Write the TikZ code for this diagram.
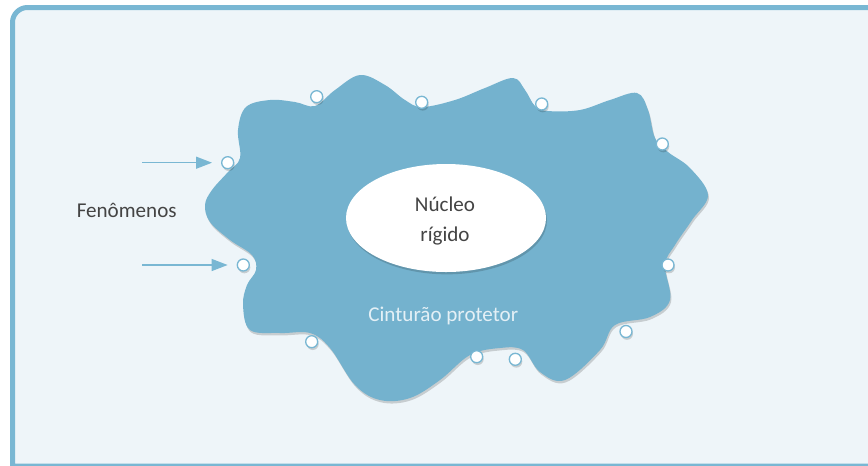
\documentclass[tikz,border=0pt]{standalone}
\usepackage{fontspec}
\setmainfont{Carlito}
\usetikzlibrary{arrows.meta,positioning,shapes.geometric,shadows}
\definecolor{framecol}{HTML}{79B7D3}
\definecolor{panelbg}{HTML}{EEF5F9}
\definecolor{blobcol}{HTML}{74B2CE}
\definecolor{inkgrey}{HTML}{444444}
\definecolor{beltink}{HTML}{E4F0F6}

\begin{document}
\begin{tikzpicture}[x=0.03cm, y=-0.03cm,
  every node/.style={font=\fontsize{18}{25.5}\selectfont},
  softshadow/.style={drop shadow={shadow xshift=0.03cm, shadow yshift=-0.07cm, fill=black, opacity=0.16}},
  vent/.style={circle, draw=framecol, line width=0.04cm, fill=white, minimum size=0.36cm, inner sep=0pt, softshadow},
  feed/.style={-{Triangle[length=0.48cm, width=0.36cm]}, framecol, line width=0.04cm, shorten >=0.27cm}]
\useasboundingbox (0,0) rectangle (868,465);
\fill[white] (0,0) rectangle (868,465);
\clip (0,0) rectangle (868,465);
\filldraw[draw=framecol, fill=panelbg, line width=0.15cm]
  (12.5,466) [rounded corners=0.45cm] -- (12.5,7.5) -- (900,7.5) [sharp corners] -- (900,466) -- cycle;
\fill[blobcol, softshadow] plot[smooth cycle, tension=0.6] coordinates {
  (238,130) (246,107) (270,100) (295,102) (315,106) (335,90) (360,75) (385,85)
  (405,100) (422,107) (455,100) (485,88) (513,78) (525,90) (535,106) (548,111)
  (580,110) (610,100) (637,93) (648,110) (655,138) (668,152) (690,168) (708,195)
  (692,220) (675,245) (665,265) (670,300) (650,317) (615,325) (600,350) (565,380)
  (540,372) (523,350) (500,348) (470,355) (440,380) (410,398) (380,400) (355,385)
  (330,348) (310,333) (280,333) (250,330) (243,305) (247,285) (256,270) (252,255)
  (230,240) (210,222) (205,205) (212,190) (228,172) (240,158)};
\foreach \k/\px/\py in {1/227.7/162.7, 2/316.7/96.7, 3/421.7/102.3, 4/541.7/104,
    5/662.3/144, 6/668/265, 7/626/331.5, 8/515.3/359.3, 9/476.7/356.7,
    10/311.7/341.7, 11/243.3/265} {
  \node[vent] (v\k) at (\px,\py) {};
}
\node[ellipse, fill=white, minimum width=6cm, minimum height=3.24cm, softshadow] (core) at (446,218) {};
\node[inkgrey, align=center, anchor=base] (coretext) at (445,241.7) {Núcleo\\rígido};
\node[beltink, anchor=base] (belt) at (443.3,321.7) {Cinturão protetor};
\node[inkgrey, anchor=base] (phen) at (126.7,217.7) {Fenômenos};
\coordinate (a1) at (142,162.7);
\coordinate (a2) at (142,265);
\draw[feed] (a1) -- (v1);
\draw[feed] (a2) -- (v11);
\end{tikzpicture}
\end{document}
